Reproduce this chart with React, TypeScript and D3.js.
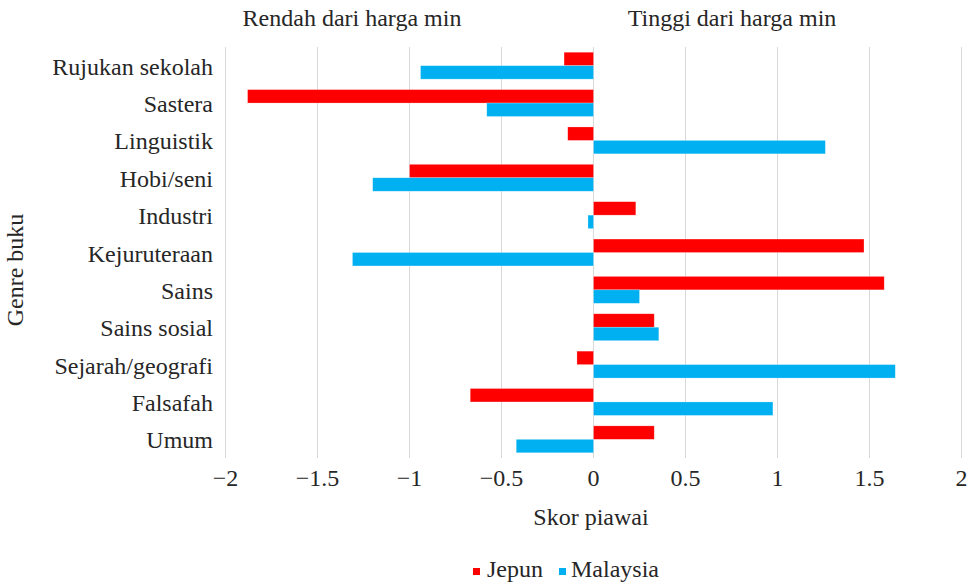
import React from "react";
import * as d3 from "d3";

const categories = [
  "Rujukan sekolah",
  "Sastera",
  "Linguistik",
  "Hobi/seni",
  "Industri",
  "Kejuruteraan",
  "Sains",
  "Sains sosial",
  "Sejarah/geografi",
  "Falsafah",
  "Umum",
];
const seriesNames = ["Jepun", "Malaysia"];
const jepun = [-0.16, -1.88, -0.14, -1.0, 0.23, 1.47, 1.58, 0.33, -0.09, -0.67, 0.33];
const malaysia = [-0.94, -0.58, 1.26, -1.2, -0.03, -1.31, 0.25, 0.355, 1.64, 0.975, -0.42];
const xTicks = [-2, -1.5, -1, -0.5, 0, 0.5, 1, 1.5, 2];
const colors = ["#FF0000", "#00B0F0"];

const W = 973;
const H = 583;
const margin = { left: 225.5, right: 11.5, top: 47, bottom: 125 };
const FONT = "'Liberation Serif', 'Times New Roman', serif";
const FS = 24;

export default function App() {
  const x = d3.scaleLinear().domain([-2, 2]).range([margin.left, W - margin.right]);
  const y = d3
    .scaleBand<string>()
    .domain(categories)
    .range([margin.top, H - margin.bottom])
    .paddingInner(0.28)
    .paddingOuter(0.14);
  const y1 = d3.scaleBand<string>().domain(seriesNames).range([0, y.bandwidth()]);
  const series = [jepun, malaysia];
  const fmt = (v: number) => (v < 0 ? "\u2212" + Math.abs(v) : String(v));
  const plotBottom = H - margin.bottom;

  return (
    <svg width={W} height={H} style={{ position: "absolute", left: 0, top: 0, background: "#fff" }} fontFamily={FONT}>
      {xTicks.map((t) => (
        <line key={"g" + t} x1={x(t)} x2={x(t)} y1={margin.top} y2={plotBottom} stroke="#d9d9d9" strokeWidth={1} />
      ))}
      {series.map((vals, si) =>
        vals.map((v, i) => {
          const x0 = x(Math.min(0, v));
          const x1 = x(Math.max(0, v));
          return (
            <rect
              key={si + "-" + i}
              x={x0}
              y={(y(categories[i]) as number) + (y1(seriesNames[si]) as number)}
              width={x1 - x0}
              height={y1.bandwidth()}
              fill={colors[si]}
              stroke="#fff"
              strokeOpacity={0.4}
              strokeWidth={0.6}
            />
          );
        })
      )}
      {categories.map((c) => (
        <text
          key={c}
          x={213}
          y={(y(c) as number) + y.bandwidth() / 2 + 9}
          textAnchor="end"
          fontSize={FS}
          fill="#262626"
        >
          {c}
        </text>
      ))}
      {xTicks.map((t) => (
        <text key={"t" + t} x={x(t)} y={486} textAnchor="middle" fontSize={FS} fill="#262626">
          {fmt(t)}
        </text>
      ))}
      <text x={352} y={26} textAnchor="middle" fontSize={FS} fill="#262626">
        Rendah dari harga min
      </text>
      <text x={732} y={26} textAnchor="middle" fontSize={FS} fill="#262626">
        Tinggi dari harga min
      </text>
      <text x={591} y={525} textAnchor="middle" fontSize={FS} fill="#262626">
        Skor piawai
      </text>
      <text transform="translate(23,270) rotate(-90)" textAnchor="middle" fontSize={FS} fill="#262626">
        Genre buku
      </text>
      <g>
        <rect x={473} y={568} width={7} height={7} fill={colors[0]} />
        <text x={487} y={577} fontSize={FS} fill="#262626">
          {seriesNames[0]}
        </text>
        <rect x={559} y={568} width={7} height={7} fill={colors[1]} />
        <text x={571} y={577} fontSize={FS} fill="#262626">
          {seriesNames[1]}
        </text>
      </g>
    </svg>
  );
}
